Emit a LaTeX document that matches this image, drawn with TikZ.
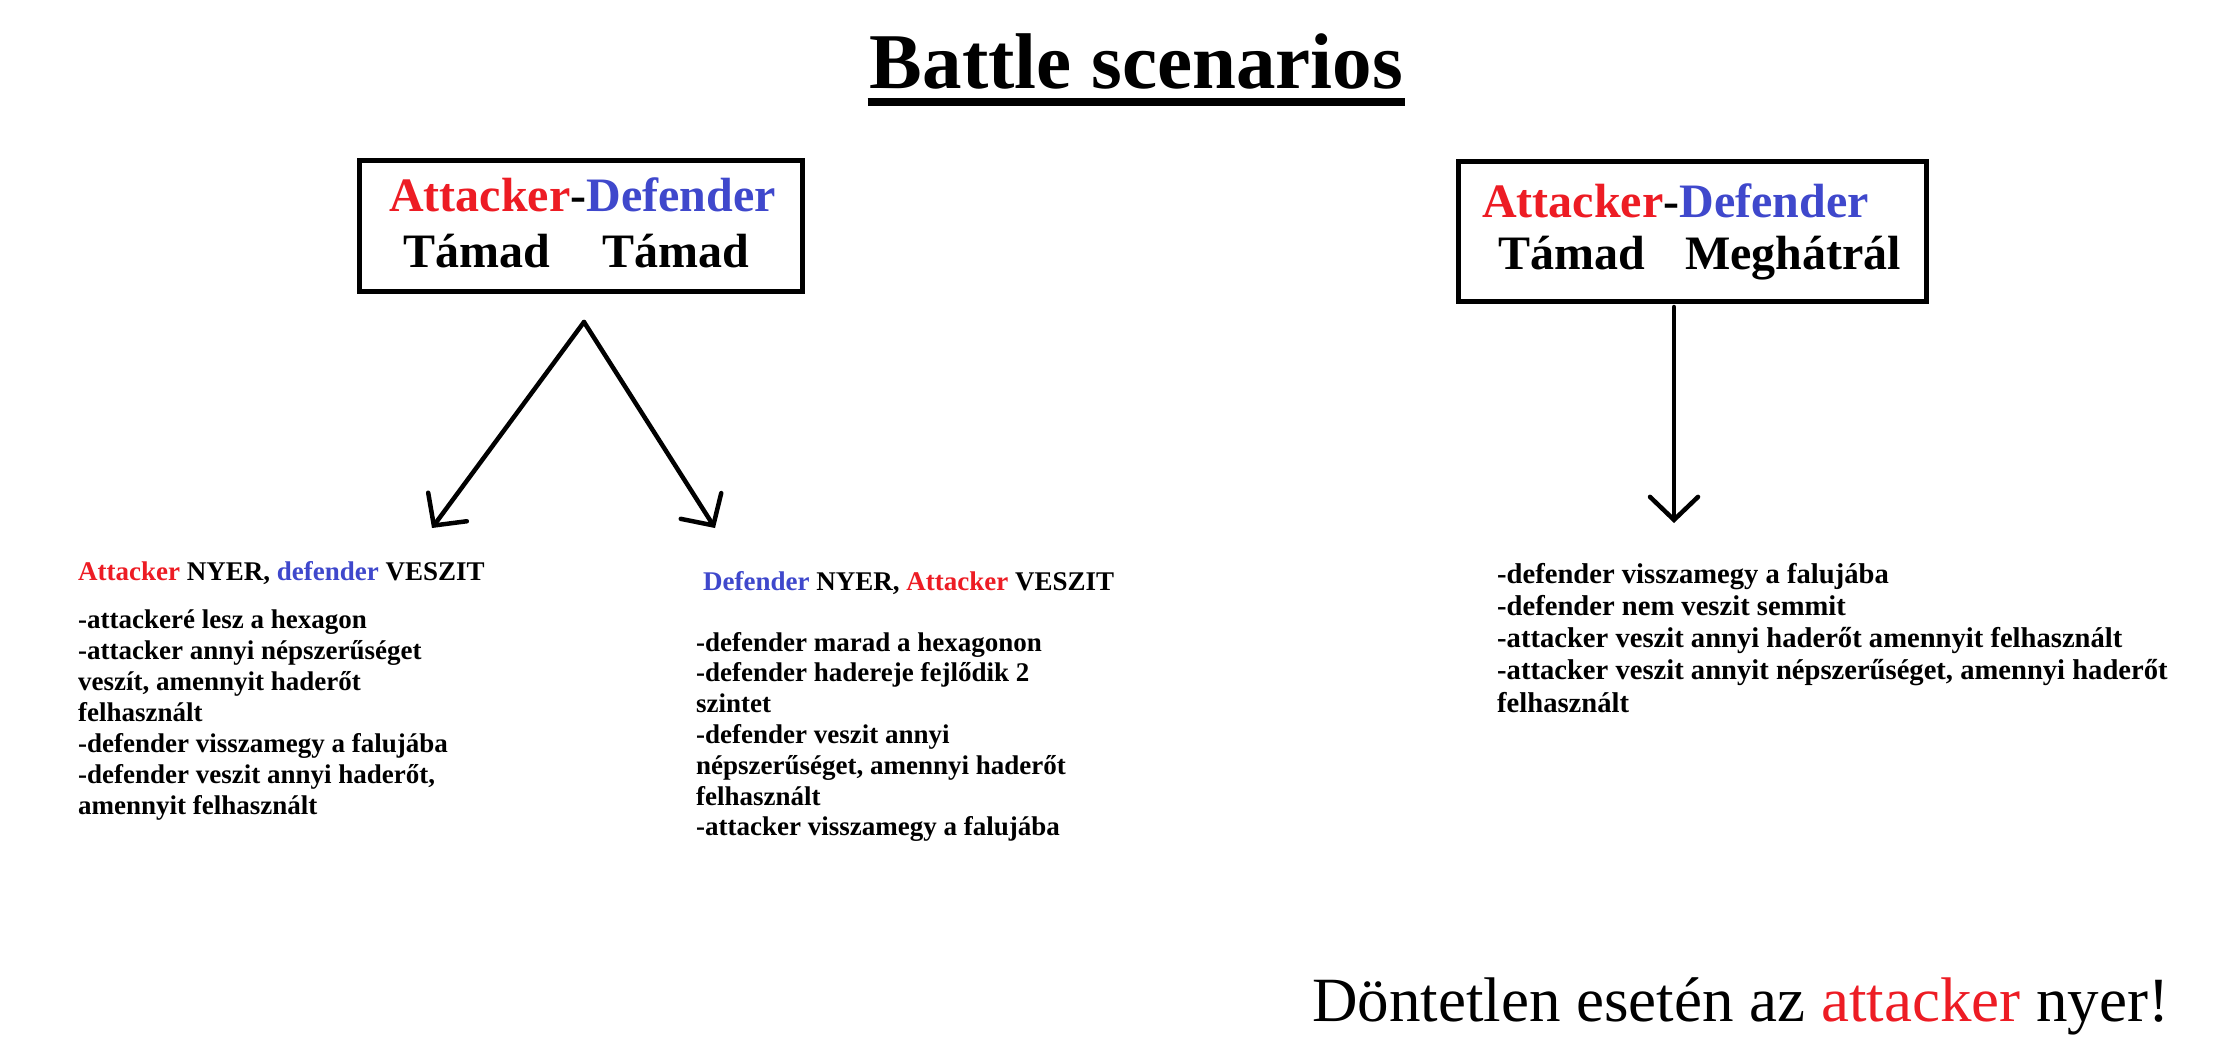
\documentclass[tikz,border=0pt]{standalone}
\usepackage{fontspec}
\setmainfont{Liberation Serif}
\usetikzlibrary{arrows.meta}
\definecolor{pred}{RGB}{237,28,36}
\definecolor{pblue}{RGB}{63,72,204}
\newcommand{\redtxt}[1]{\textcolor{pred}{#1}}
\newcommand{\bluetxt}[1]{\textcolor{pblue}{#1}}
\begin{document}
\begin{tikzpicture}[x=1pt,y=-1pt,
  box/.style={draw, line width=5pt, inner sep=0pt},
  txt/.style={inner sep=0pt, anchor=base west},
  boxfont/.style={font=\fontsize{48}{56}\selectfont\bfseries},
  listfont/.style={font=\fontsize{27}{31}\selectfont\bfseries},
  arr/.style={line width=4.5pt, line cap=round, line join=round,
    -{Straight Barb[length=23pt,width=48pt,line cap=round]}}]
\useasboundingbox (0,0) rectangle (2216,1063);
\fill[white] (0,0) rectangle (2216,1063);

% title
\node[txt, anchor=base, font=\fontsize{79}{90}\selectfont\bfseries] (title) at (1136.5,88) {Battle scenarios};
\draw[line width=8pt] ([xshift=-2pt,yshift=-14pt]title.base west) -- ([xshift=2pt,yshift=-14pt]title.base east);

% left box
\node[box, minimum width=443pt, minimum height=131pt] (boxL) at (581,226) {};
\node[txt, boxfont, anchor=base] (boxLa) at (582.5,211) {\redtxt{Attacker}-\bluetxt{Defender}};
\node[txt, boxfont] (boxLb) at (403,267) {Támad};
\node[txt, boxfont] (boxLc) at (602,267) {Támad};

% right box
\node[box, minimum width=468pt, minimum height=140pt] (boxR) at (1692.5,231.5) {};
\node[txt, boxfont, anchor=base] (boxRa) at (1675.5,217) {\redtxt{Attacker}-\bluetxt{Defender}};
\node[txt, boxfont] (boxRb) at (1498,269) {Támad};
\node[txt, boxfont] (boxRc) at (1685,269) {Meghátrál};

% arrows
\coordinate (apexL) at (584,322);
\coordinate (tipL1) at (432,528);
\coordinate (tipL2) at (715,528);
\coordinate (startR) at (1674,307);
\coordinate (tipR) at (1674,523);
\draw[arr] (apexL) -- (tipL1);
\draw[arr] (apexL) -- (tipL2);
\draw[arr] (startR) -- (tipR);

% left block
\node[txt, listfont] (headL) at (78,580) {\redtxt{Attacker} NYER, \bluetxt{defender} VESZIT};
\node[txt, listfont] (listL) at (78,628) {\begin{tabular}[t]{@{}l@{}}
-attackeré lesz a hexagon\\
-attacker annyi népszerűséget\\
veszít, amennyit haderőt\\
felhasznált\\
-defender visszamegy a falujába\\
-defender veszit annyi haderőt,\\
amennyit felhasznált
\end{tabular}};

% middle block
\node[txt, listfont] (headM) at (703,590) {\bluetxt{Defender} NYER, \redtxt{Attacker} VESZIT};
\node[txt, font=\fontsize{27}{30.83}\selectfont\bfseries] (listM) at (696,651) {\begin{tabular}[t]{@{}l@{}}
-defender marad a hexagonon\\
-defender hadereje fejlődik 2\\
szintet\\
-defender veszit annyi\\
népszerűséget, amennyi haderőt\\
felhasznált\\
-attacker visszamegy a falujába
\end{tabular}};

% right block
\node[txt, font=\fontsize{28.6}{32.25}\selectfont\bfseries] (listR) at (1497,583) {\begin{tabular}[t]{@{}l@{}}
-defender visszamegy a falujába\\
-defender nem veszit semmit\\
-attacker veszit annyi haderőt amennyit felhasznált\\
-attacker veszit annyit népszerűséget, amennyi haderőt\\
felhasznált
\end{tabular}};

% bottom note
\node[txt, font=\fontsize{63}{72}\selectfont] (note) at (1312,1021) {Döntetlen esetén az \redtxt{attacker} nyer!};
\end{tikzpicture}
\end{document}
